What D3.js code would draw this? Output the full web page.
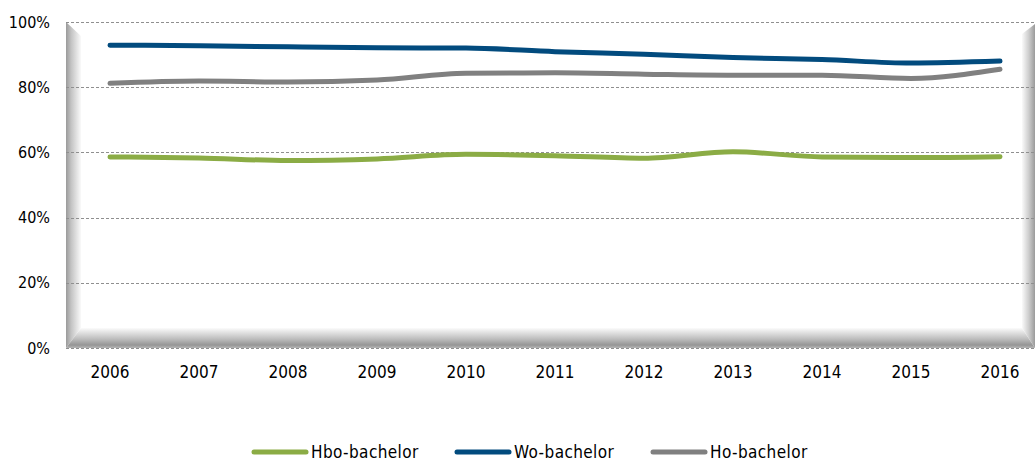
<!DOCTYPE html>
<html>
<head>
<meta charset="utf-8">
<script src="https://cdn.jsdelivr.net/npm/d3@7/dist/d3.min.js"></script>
<style>
  html, body { margin: 0; padding: 0; background: #fff; }
  svg { display: block; }
  text { font-family: "DejaVu Sans Condensed", "DejaVu Sans", sans-serif; fill: #000; }
</style>
</head>
<body>
<svg id="chart" width="1035" height="461"></svg>
<script>
const years = ["2006","2007","2008","2009","2010","2011","2012","2013","2014","2015","2016"];
const hboBachelor = [58.6, 58.3, 57.5, 58.0, 59.4, 59.0, 58.2, 60.2, 58.6, 58.4, 58.7];
const woBachelor  = [92.9, 92.7, 92.4, 92.1, 92.0, 90.9, 90.1, 89.1, 88.5, 87.4, 88.0];
const hoBachelor  = [81.2, 81.9, 81.6, 82.2, 84.3, 84.4, 84.0, 83.7, 83.7, 82.7, 85.5];
const yTicks = [0, 20, 40, 60, 80, 100];
const seriesNames = ["Hbo-bachelor", "Wo-bachelor", "Ho-bachelor"];
const seriesColors = ["#8BAC45", "#024B7E", "#808080"];

const series = [
  {name: seriesNames[0], values: hboBachelor, color: seriesColors[0]},
  {name: seriesNames[1], values: woBachelor, color: seriesColors[1]},
  {name: seriesNames[2], values: hoBachelor, color: seriesColors[2]}
];

const svg = d3.select("#chart");
const L = 66, R = 1035, T = 22, B = 348;

const x = d3.scalePoint().domain(years).range([110, 1000]);
const y = d3.scaleLinear().domain([0, 100]).range([B, T]);

// gradients for the 3D-like wall bevels
const defs = svg.append("defs");
const gl = defs.append("linearGradient").attr("id", "gLeft").attr("x1", 0).attr("x2", 1).attr("y1", 0).attr("y2", 0);
gl.append("stop").attr("offset", 0).attr("stop-color", "#9a9a9a");
gl.append("stop").attr("offset", 0.35).attr("stop-color", "#c4c4c4");
gl.append("stop").attr("offset", 1).attr("stop-color", "#fafafa");
const gb = defs.append("linearGradient").attr("id", "gBottom").attr("x1", 0).attr("x2", 0).attr("y1", 0).attr("y2", 1);
gb.append("stop").attr("offset", 0).attr("stop-color", "#fbfbfb");
gb.append("stop").attr("offset", 0.55).attr("stop-color", "#bdbdbd");
gb.append("stop").attr("offset", 0.85).attr("stop-color", "#959595");
gb.append("stop").attr("offset", 1).attr("stop-color", "#b5b5b5");
const gr = defs.append("linearGradient").attr("id", "gRight").attr("x1", 0).attr("x2", 1).attr("y1", 0).attr("y2", 0);
gr.append("stop").attr("offset", 0).attr("stop-color", "#fafafa");
gr.append("stop").attr("offset", 0.5).attr("stop-color", "#cfcfcf");
gr.append("stop").attr("offset", 1).attr("stop-color", "#9a9a9a");

const bw = 15, bh = 20, rw = 13;
svg.append("polygon").attr("fill", "url(#gLeft)")
  .attr("points", [[L, T], [L + bw, T + 14], [L + bw, B - bh], [L, B]].join(" "));
svg.append("polygon").attr("fill", "url(#gBottom)")
  .attr("points", [[L, B], [L + bw, B - bh], [R - rw, B - bh], [R, B]].join(" "));
svg.append("polygon").attr("fill", "url(#gRight)")
  .attr("points", [[R - rw, T + 12], [R, T + 2], [R, B], [R - rw, B - bh]].join(" "));

// gridlines
svg.append("g").selectAll("line").data(yTicks).join("line")
  .attr("x1", L).attr("x2", R)
  .attr("y1", d => Math.round(y(d)) + 0.5).attr("y2", d => Math.round(y(d)) + 0.5)
  .attr("stroke", "#8f8f8f").attr("stroke-width", 1).attr("stroke-dasharray", "3,2");

// y labels
svg.append("g").selectAll("text").data(yTicks).join("text")
  .attr("x", 50).attr("y", d => y(d)).attr("dy", "0.35em")
  .attr("text-anchor", "end").attr("font-size", 16)
  .text(d => d + "%");

// x labels
svg.append("g").selectAll("text").data(years).join("text")
  .attr("x", d => x(d)).attr("y", 378)
  .attr("text-anchor", "middle").attr("font-size", 17)
  .text(d => d);

// lines
const line = d3.line()
  .x((d, i) => x(years[i]))
  .y(d => y(d))
  .curve(d3.curveMonotoneX);

svg.append("g").selectAll("path").data(series).join("path")
  .attr("d", d => line(d.values))
  .attr("fill", "none")
  .attr("stroke", d => d.color)
  .attr("stroke-width", 5)
  .attr("stroke-linecap", "round")
  .attr("stroke-linejoin", "round");

// legend
const legendX = [254, 457, 653];
const lg = svg.append("g").selectAll("g").data(series).join("g")
  .attr("transform", (d, i) => `translate(${legendX[i]},452)`);
lg.append("line").attr("x1", 0).attr("x2", 52).attr("y1", 0).attr("y2", 0)
  .attr("stroke", d => d.color).attr("stroke-width", 5).attr("stroke-linecap", "round");
lg.append("text").attr("x", 57).attr("y", 6)
  .attr("font-family", "'DejaVu Sans', sans-serif")
  .attr("font-size", 17).attr("letter-spacing", "0.4px").text(d => d.name);
</script>
</body>
</html>
